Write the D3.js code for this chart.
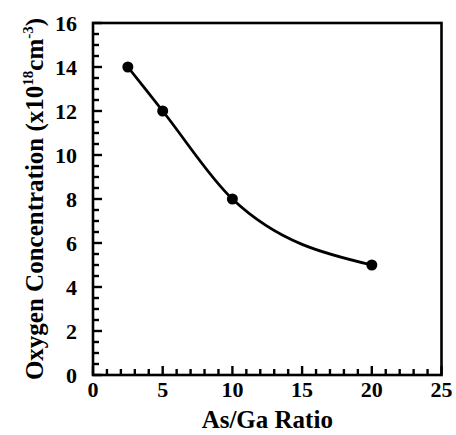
<!DOCTYPE html>
<html>
<head>
<meta charset="utf-8">
<script src="https://cdn.jsdelivr.net/npm/d3@7"></script>
<style>
  html, body { margin: 0; padding: 0; background: #fff; }
  svg { display: block; }
  text { font-family: "Liberation Serif", "Times New Roman", serif; font-weight: bold; fill: #000; }
</style>
</head>
<body>
<svg id="chart" width="456" height="435"></svg>
<script>
// As/Ga ratio vs. oxygen concentration
const asGaRatio = [2.5, 5, 10, 20];
const oxygenConc = [14, 12, 8, 5];
const xTicks = [0, 5, 10, 15, 20, 25];
const yTicks = [0, 2, 4, 6, 8, 10, 12, 14, 16];

const svg = d3.select("#chart");
const margin = { left: 93, top: 23, right: 14.5, bottom: 60 };
const W = 456, H = 435;

const x = d3.scaleLinear().domain([0, 25]).range([margin.left, W - margin.right]);
const y = d3.scaleLinear().domain([0, 16]).range([H - margin.bottom, margin.top]);

// tick positions: major every 5 / 2 units, minor every 1 / 0.5 units
const xMinor = d3.range(0, 25.001, 1);
const yMinor = d3.range(0, 16.001, 0.5);

const g = svg.append("g");

// x ticks (pointing into the plot)
g.append("g").selectAll("path").data(xMinor).join("path")
  .attr("d", d => `M${x(d)},${y(0)}V${y(0) - (d % 5 === 0 ? 9 : 6)}`)
  .attr("stroke", "#000").attr("stroke-width", 2.4);

// y ticks (pointing into the plot)
g.append("g").selectAll("path").data(yMinor).join("path")
  .attr("d", d => `M${x(0)},${y(d)}H${x(0) + (d % 2 === 0 ? 9 : 6)}`)
  .attr("stroke", "#000").attr("stroke-width", 2.4);

// frame
g.append("rect")
  .attr("x", x(0)).attr("y", y(16))
  .attr("width", x(25) - x(0)).attr("height", y(0) - y(16))
  .attr("fill", "none").attr("stroke", "#000").attr("stroke-width", 2.6);

// tick labels
g.selectAll(".xl").data(xTicks).enter().append("text")
  .attr("x", d => x(d)).attr("y", y(0) + 22)
  .attr("text-anchor", "middle").attr("font-size", 22)
  .text(d => d);

g.selectAll(".yl").data(yTicks).enter().append("text")
  .attr("x", x(0) - 16).attr("y", d => y(d) + 8)
  .attr("text-anchor", "end").attr("font-size", 22)
  .text(d => d);

// axis titles
g.append("text")
  .attr("x", (x(0) + x(25)) / 2).attr("y", 428)
  .attr("text-anchor", "middle").attr("font-size", 25)
  .text("As/Ga Ratio");

const yt = g.append("text")
  .attr("transform", `translate(43,${(y(0) + y(16)) / 2}) rotate(-90)`)
  .attr("text-anchor", "middle").attr("font-size", 25);
yt.append("tspan").text("Oxygen Concentration (x10");
yt.append("tspan").attr("font-size", 15).attr("dy", -10).text("18");
yt.append("tspan").attr("dy", 10).text("cm");
yt.append("tspan").attr("font-size", 15).attr("dy", -10).text("-3");
yt.append("tspan").attr("dy", 10).text(")");

// smooth curve through the measurements
const pts = asGaRatio.map((v, i) => [v, oxygenConc[i]]);
g.append("path")
  .datum(pts)
  .attr("fill", "none").attr("stroke", "#000").attr("stroke-width", 2.8)
  .attr("d", d3.line().x(d => x(d[0])).y(d => y(d[1])).curve(d3.curveMonotoneX));

g.selectAll(".pt").data(pts).enter().append("circle")
  .attr("cx", d => x(d[0])).attr("cy", d => y(d[1])).attr("r", 5.5)
  .attr("fill", "#000");
</script>
</body>
</html>
